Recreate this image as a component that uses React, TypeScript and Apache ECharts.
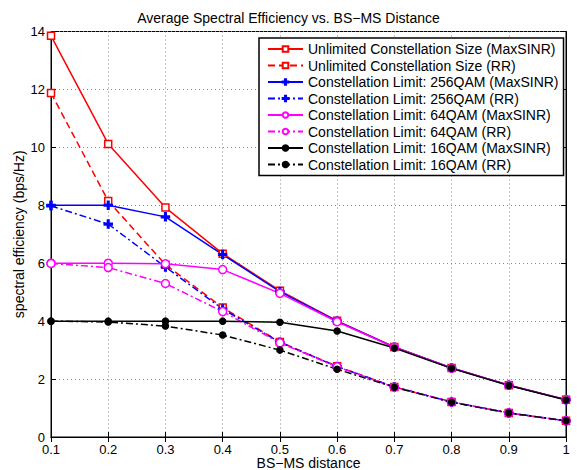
import React, { useEffect, useRef } from "react";
import * as echarts from "echarts";

const distance = [0.1, 0.2, 0.3, 0.4, 0.5, 0.6, 0.7, 0.8, 0.9, 1.0];
const unlimitedMax = [13.85, 10.12, 7.92, 6.33, 5.05, 4.01, 3.11, 2.38, 1.79, 1.29];
const unlimitedRR = [11.88, 8.15, 5.95, 4.47, 3.28, 2.44, 1.73, 1.21, 0.83, 0.56];
const qam256Max = [8.0, 8.0, 7.6, 6.3, 5.02, 4.0, 3.1, 2.38, 1.79, 1.29];
const qam256RR = [7.98, 7.35, 5.87, 4.42, 3.27, 2.43, 1.73, 1.21, 0.83, 0.56];
const qam64Max = [6.0, 6.0, 5.98, 5.78, 4.96, 3.98, 3.1, 2.38, 1.79, 1.29];
const qam64RR = [5.99, 5.85, 5.3, 4.33, 3.25, 2.42, 1.72, 1.21, 0.83, 0.56];
const qam16Max = [4.0, 4.0, 4.0, 4.0, 3.96, 3.66, 3.07, 2.37, 1.78, 1.28];
const qam16RR = [4.0, 3.97, 3.83, 3.52, 3.0, 2.34, 1.72, 1.2, 0.83, 0.56];

const seriesNames = [
  "Unlimited Constellation Size (MaxSINR)",
  "Unlimited Constellation Size (RR)",
  "Constellation Limit: 256QAM (MaxSINR)",
  "Constellation Limit: 256QAM (RR)",
  "Constellation Limit: 64QAM (MaxSINR)",
  "Constellation Limit: 64QAM (RR)",
  "Constellation Limit: 16QAM (MaxSINR)",
  "Constellation Limit: 16QAM (RR)",
];

const FONT = "Liberation Sans, Arial, Helvetica, sans-serif";
const PLUS = "path://M4,0h2v4h4v2h-4v4h-2v-4h-4v-2h4z";
const DASH = [7, 4];
const DASHDOT = [7, 3, 2, 3];

export default function App() {
  const ref = useRef<HTMLDivElement>(null);
  useEffect(() => {
    const chart = echarts.init(ref.current!, undefined, { renderer: "svg" });
    const mk = (
      name: string,
      data: number[],
      color: string,
      type: any,
      symbol: string,
      size: number,
      fill: string
    ) => ({
      name,
      type: "line",
      data: distance.map((d, i) => [d, data[i]]),
      symbol,
      symbolSize: size,
      showSymbol: true,
      lineStyle: { color, width: 1.5, type },
      itemStyle: { color: fill, borderColor: color, borderWidth: 1.5 },
      emphasis: { disabled: true },
    });
    const series = [
      mk(seriesNames[0], unlimitedMax, "#ff0000", "solid", "rect", 7, "#ffffff"),
      mk(seriesNames[1], unlimitedRR, "#ff0000", DASH, "rect", 7, "#ffffff"),
      mk(seriesNames[2], qam256Max, "#0000ff", "solid", PLUS, 8, "#0000ff"),
      mk(seriesNames[3], qam256RR, "#0000ff", DASHDOT, PLUS, 8, "#0000ff"),
      mk(seriesNames[4], qam64Max, "#ff00ff", "solid", "circle", 8, "#ffffff"),
      mk(seriesNames[5], qam64RR, "#ff00ff", DASHDOT, "circle", 8, "#ffffff"),
      mk(seriesNames[6], qam16Max, "#000000", "solid", "circle", 6, "#000000"),
      mk(seriesNames[7], qam16RR, "#000000", DASHDOT, "circle", 6, "#000000"),
    ];
    chart.setOption({
      animation: false,
      backgroundColor: "#ffffff",
      textStyle: { fontFamily: FONT },
      title: {
        text: "Average Spectral Efficiency vs. BS\u2212MS Distance",
        left: "center",
        top: 6,
        textStyle: { fontSize: 14, fontWeight: "normal", color: "#000", fontFamily: FONT },
      },
      grid: {
        left: 51,
        right: 11,
        top: 31.5,
        bottom: 33,
        outerBoundsMode: "none",
        containLabel: false,
        show: true,
        borderColor: "#000",
        borderWidth: 1,
        backgroundColor: "transparent",
      },
      legend: {
        orient: "vertical",
        left: 259,
        top: 38,
        padding: [4, 5, 4, 8],
        itemWidth: 35,
        itemHeight: 7,
        itemGap: 2.5,
        backgroundColor: "#ffffff",
        borderColor: "#000",
        borderWidth: 1.5,
        textStyle: { fontSize: 14, color: "#000", fontFamily: FONT },
        data: seriesNames,
      },
      xAxis: [
        {
          type: "value",
          min: 0.1,
          max: 1,
          interval: 0.1,
          name: "BS\u2212MS distance",
          nameLocation: "middle",
          nameGap: 19,
          nameMoveOverlap: false,
          nameTextStyle: { fontSize: 14, color: "#000", lineHeight: 14 },
          axisLine: { lineStyle: { color: "#000", width: 1 } },
          axisTick: { inside: true, length: 5, lineStyle: { color: "#000" } },
          axisLabel: {
            fontSize: 13,
            lineHeight: 12,
            color: "#000",
            margin: 6,
            formatter: (v: number) => String(+v.toFixed(1)),
          },
          splitLine: { show: true, lineStyle: { color: "#888", type: [1, 3], width: 1 } },
        },
        {
          type: "value",
          position: "top",
          min: 0.1,
          max: 1,
          interval: 0.1,
          axisLine: { show: true, lineStyle: { color: "#000" } },
          axisTick: { inside: true, length: 5, lineStyle: { color: "#000" } },
          axisLabel: { show: false },
          splitLine: { show: false },
        },
      ],
      yAxis: [
        {
          type: "value",
          min: 0,
          max: 14,
          interval: 2,
          name: "spectral efficiency (bps/Hz)",
          nameLocation: "middle",
          nameGap: 25,
          nameMoveOverlap: false,
          nameTextStyle: { fontSize: 14, color: "#000" },
          axisLine: { show: true, lineStyle: { color: "#000", width: 1 } },
          axisTick: { show: true, inside: true, length: 5, lineStyle: { color: "#000" } },
          axisLabel: { fontSize: 13, lineHeight: 11, color: "#000", margin: 6 },
          splitLine: { show: true, lineStyle: { color: "#888", type: [1, 3], width: 1 } },
        },
        {
          type: "value",
          position: "right",
          min: 0,
          max: 14,
          interval: 2,
          axisLine: { show: true, lineStyle: { color: "#000" } },
          axisTick: { show: true, inside: true, length: 5, lineStyle: { color: "#000" } },
          axisLabel: { show: false },
          splitLine: { show: false },
        },
      ],
      series,
    });
    return () => chart.dispose();
  }, []);
  return <div ref={ref} style={{ width: 577, height: 470, position: "absolute", left: 0, top: 0 }} />;
}
